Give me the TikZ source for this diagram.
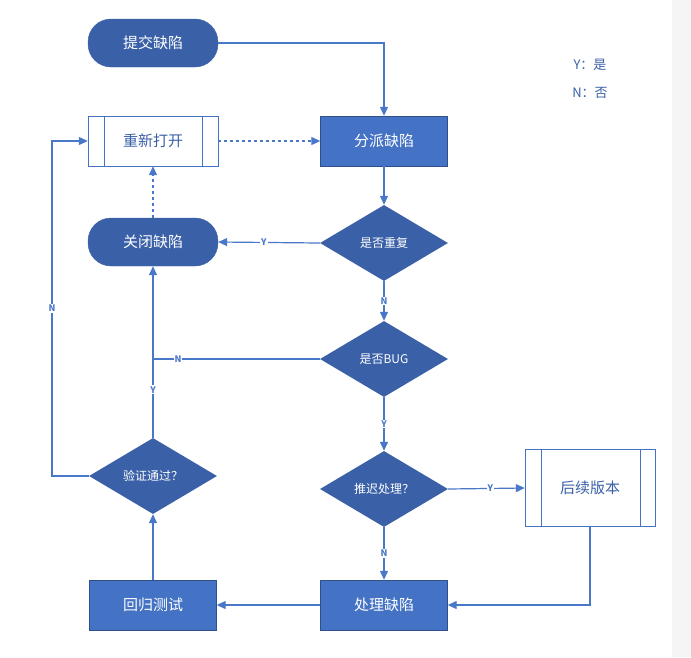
\documentclass[tikz,border=0pt]{standalone}
\usepackage{fontspec}
\setmainfont{Noto Sans CJK SC}
\usetikzlibrary{shapes.geometric,arrows.meta}
\definecolor{dk}{HTML}{3A60A8}
\definecolor{md}{HTML}{4472C4}
\definecolor{ln}{HTML}{4A78C8}
\begin{document}
\begin{tikzpicture}[x=1pt,y=-1pt,
  base/.style={font=\fontsize{15}{18}\selectfont, text=white, inner sep=0pt},
  pill/.style={base, fill=dk, draw=dk, rounded corners=23pt, minimum width=130pt, minimum height=48pt},
  box/.style={base, fill=md, draw=md!70!black, minimum width=127pt, minimum height=50pt},
  sub/.style={base, text=dk, fill=white, draw=md, minimum width=130pt},
  dia/.style={base, font=\fontsize{12}{14}\selectfont, diamond, fill=dk, minimum width=128pt, minimum height=76pt, aspect=1.7},
  ar/.style={draw=ln, line width=1.2pt, -{Triangle[length=9pt,width=8pt]}},
  ln/.style={draw=ln, line width=1.2pt},
  lab/.style={font=\fontsize{9}{10}\selectfont\bfseries, text=ln, fill=white, inner sep=1pt}]
\useasboundingbox (0,0) rectangle (691,657);
\fill[white] (0,0) rectangle (691,657);
\fill[gray!8] (672,0) rectangle (691,657);
\node[pill] (submit) at (153,43) {提交缺陷};
\node[box] (assign) at (384,141) {分派缺陷};
\node[sub, minimum height=50pt] (reopen) at (153,141) {重新打开};
\draw[md] (104,116) -- (104,166) (202,116) -- (202,166);
\node[dia] (dup) at (384,243) {是否重复};
\node[pill] (close) at (153,242) {关闭缺陷};
\node[dia] (bug) at (384,359) {是否BUG};
\node[dia] (verify) at (153,476) {验证通过？};
\node[dia] (delay) at (384,489) {推迟处理？};
\node[sub, minimum height=77pt] (later) at (590,488) {后续版本};
\draw[md] (541,449) -- (541,526) (640,449) -- (640,526);
\node[box] (fix) at (384,605) {处理缺陷};
\node[box] (reg) at (153,605) {回归测试};
\node[font=\fontsize{13}{15}\selectfont, text=dk] (ly) at (590,65) {Y：是};
\node[font=\fontsize{13}{15}\selectfont, text=dk] (lnn) at (590,93) {N：否};
\coordinate (c1) at (384,43);
\coordinate (j) at (153,359);
\coordinate (c2) at (52,476);
\coordinate (c3) at (52,141);
\coordinate (c4) at (590,605);
\draw[ar] (submit.east) -- (c1) -- (assign.north);
\draw[ar, dashed] (reopen.east) -- (assign.west);
\draw[ar] (assign) -- (dup);
\draw[ar] (dup.west) -- node[lab, pos=0.55]{Y} (close.east);
\draw[ar] (dup.south) -- node[lab]{N} (bug.north);
\draw[ln] (bug.west) -- node[lab, pos=0.85]{N} (j);
\draw[ar] (verify.north) -- node[lab, pos=0.28]{Y} (close.south);
\draw[ar] (bug.south) -- node[lab]{Y} (delay.north);
\draw[ar] (delay.east) -- node[lab, pos=0.55]{Y} (later.west);
\draw[ar] (delay.south) -- node[lab]{N} (fix.north);
\draw[ar] (later.south) -- (c4) -- (fix.east);
\draw[ar] (fix.west) -- (reg.east);
\draw[ar] (reg.north) -- (verify.south);
\draw[ar] (verify.west) -- (c2) -- node[lab, pos=0.5]{N} (c3) -- (reopen.west);
\draw[ar, dashed] (close.north) -- (reopen.south);
\end{tikzpicture}
\end{document}
